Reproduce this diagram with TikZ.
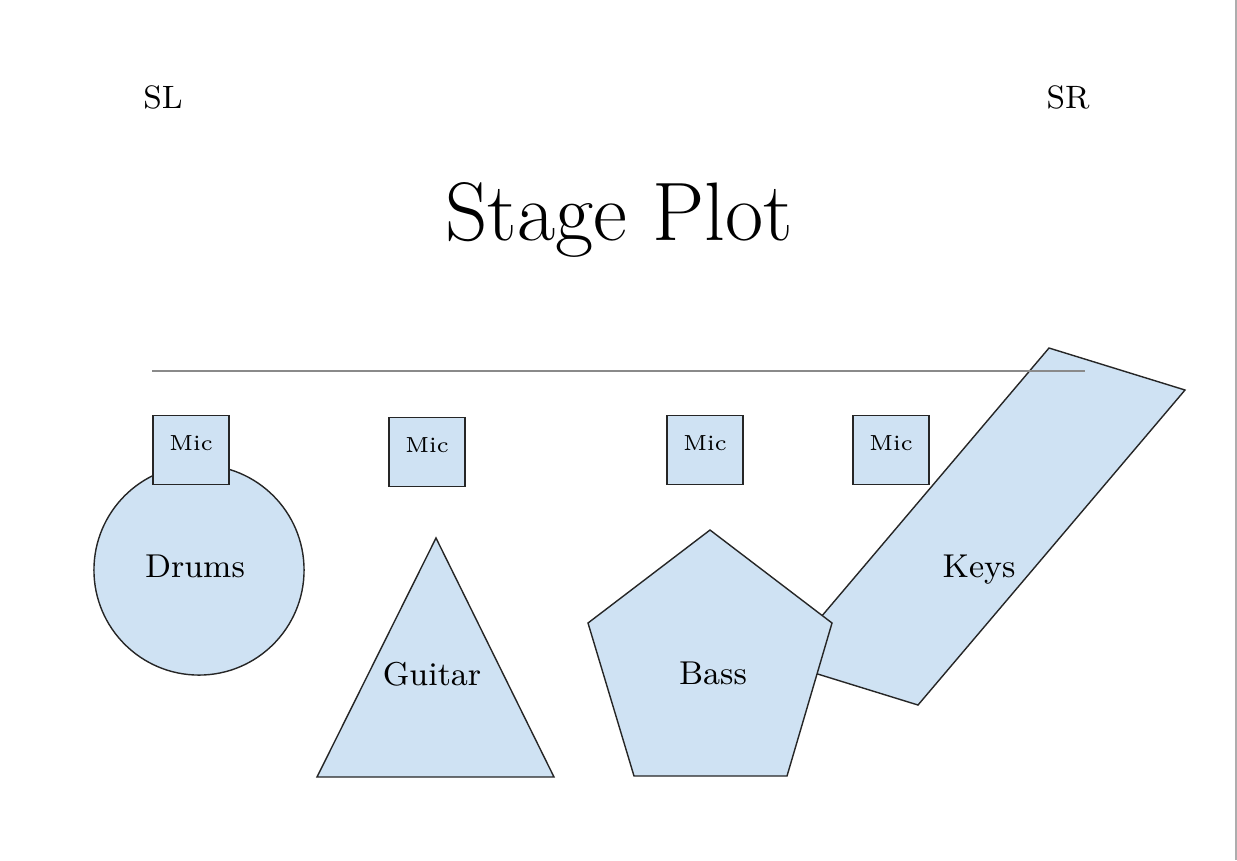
\documentclass[tikz,border=0pt]{standalone}
\definecolor{stagefill}{HTML}{CFE2F3}
\definecolor{stageline}{HTML}{8A8A8A}
\tikzset{
  piece/.style={
    draw = black!85,
    fill = stagefill,
    line width = 0.4pt
  },
  micbox/.style={
    piece,
    inner sep = 0pt,
    minimum width = 0.76cm,
    minimum height = 0.69cm
  },
  miclabel/.style={
    anchor = base,
    font = \fontsize{6.2}{7}\selectfont
  },
  partname/.style={
    anchor = base,
    font = \fontsize{9.4}{11}\selectfont
  },
  sidename/.style={
    anchor = base,
    font = \fontsize{9.2}{11}\selectfont
  }
}
\begin{document}
\begin{tikzpicture}[x=0.01cm,y=-0.01cm]
  \useasboundingbox (0,0) rectangle (1237,860);
  \draw[stageline!70,line width=0.6pt] (1236,0) -- (1236,860);
  \node[sidename] (sl) at (163,108) {SL};
  \node[sidename] (sr) at (1068,108) {SR};
  \node[anchor=base,font=\fontsize{23.6}{28}\selectfont] (title) at (619,240) {Stage Plot};
  % keys sit under the front line
  \draw[piece] (1049,348) coordinate (k1) -- (1185,390) coordinate (k2)
    -- (918,705) coordinate (k3) -- (782,663) coordinate (k4) -- cycle;
  \draw[stageline,line width=0.5pt] (152,371) -- (1085,371);
  \node[piece,circle,inner sep=0pt,minimum size=2.1cm] (drums) at (199,570) {};
  \draw[piece] (436,538) coordinate (g1) -- (554,777) coordinate (g2)
    -- (317,777) coordinate (g3) -- cycle;
  \draw[piece] (710,530) coordinate (b1) -- (832,623) coordinate (b2)
    -- (787,776) coordinate (b3) -- (634,776) coordinate (b4)
    -- (588,623) coordinate (b5) -- cycle;
  \foreach \i/\x/\y in {1/191/450, 2/427/452, 3/705/450, 4/891/450}{
      \node[micbox] (mic\i) at (\x,\y) {};
      \node[miclabel] (mictext\i) at ([yshift=0cm]mic\i.center) {Mic};
    }
  \node[partname] (drumstext) at (195,577) {Drums};
  \node[partname] (guitartext) at (432,685) {Guitar};
  \node[partname] (basstext) at (713,684) {Bass};
  \node[partname] (keystext) at (979,577) {Keys};
\end{tikzpicture}
\end{document}
